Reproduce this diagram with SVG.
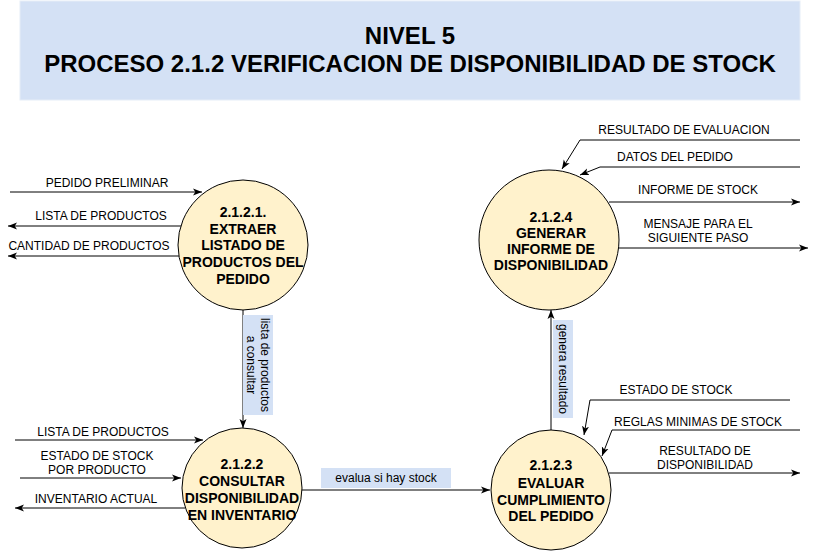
<svg xmlns="http://www.w3.org/2000/svg" width="818" height="551" viewBox="0 0 818 551">
<style>
.lbl{font-family:"Liberation Sans",Arial,sans-serif;font-size:12px;fill:#000}
.nt{font-family:"Liberation Sans",Arial,sans-serif;font-size:14px;font-weight:bold;fill:#000;text-anchor:middle}
.ttl{font-family:"Liberation Sans",Arial,sans-serif;font-size:24px;font-weight:bold;fill:#000;text-anchor:middle}
.proc{fill:#FFF2CC;stroke:#000;stroke-width:1}
.edge{fill:none;stroke:#000;stroke-width:1;marker-end:url(#arr)}
.lb{fill:#D4E1F5}
</style>
<defs>
<marker id="arr" markerUnits="userSpaceOnUse" markerWidth="10" markerHeight="8" refX="9" refY="4" orient="auto">
<path d="M0,0.5 L9,4 L0,7.5 L2.3,4 Z" fill="#000"/>
</marker>
</defs>
<rect x="0" y="0" width="818" height="551" fill="#fff"/>
<g id="header">
<rect x="20" y="1" width="780" height="99" fill="#D4E1F5" stroke="#E6EDF7"/>
<text class="ttl" x="410" y="44">NIVEL 5</text>
<text class="ttl" x="410" y="72">PROCESO 2.1.2 VERIFICACION DE DISPONIBILIDAD DE STOCK</text>
</g>
<g id="connectors">
<path class="edge" d="M10,192 L202,192"/>
<path class="edge" d="M181,226 L8,226"/>
<path class="edge" d="M179,256 L8,256"/>
<path class="edge" d="M15,440 L203,440"/>
<path class="edge" d="M20,478 L181,478"/>
<path class="edge" d="M185,508 L15,508"/>
<path class="edge" d="M243,310 L243,428"/>
<path class="edge" d="M302,490 L490,490"/>
<path class="edge" d="M551,430 L551,310"/>
<path class="edge" d="M800,140 L580,140 L562,169"/>
<path class="edge" d="M800,167 L600,167 L580,175"/>
<path class="edge" d="M609,202 L800,202"/>
<path class="edge" d="M619,248 L808,248"/>
<path class="edge" d="M790,400 L590,400 L584,435"/>
<path class="edge" d="M800,430 L612,430 L602,456"/>
<path class="edge" d="M609,473 L800,473"/>
<text class="lbl" x="107" y="187" text-anchor="middle">PEDIDO PRELIMINAR</text>
<text class="lbl" x="101" y="220" text-anchor="middle">LISTA DE PRODUCTOS</text>
<text class="lbl" x="89" y="250" text-anchor="middle">CANTIDAD DE PRODUCTOS</text>
<text class="lbl" x="103" y="436" text-anchor="middle">LISTA DE PRODUCTOS</text>
<text class="lbl" x="97" y="460" text-anchor="middle">ESTADO DE STOCK</text>
<text class="lbl" x="97" y="474" text-anchor="middle">POR PRODUCTO</text>
<text class="lbl" x="96" y="503" text-anchor="middle">INVENTARIO ACTUAL</text>
<text class="lbl" x="684" y="134" text-anchor="middle">RESULTADO DE EVALUACION</text>
<text class="lbl" x="675" y="161" text-anchor="middle">DATOS DEL PEDIDO</text>
<text class="lbl" x="698" y="194" text-anchor="middle">INFORME DE STOCK</text>
<text class="lbl" x="698" y="228" text-anchor="middle">MENSAJE PARA EL</text>
<text class="lbl" x="698" y="242" text-anchor="middle">SIGUIENTE PASO</text>
<text class="lbl" x="676" y="394" text-anchor="middle">ESTADO DE STOCK</text>
<text class="lbl" x="698" y="426" text-anchor="middle">REGLAS MINIMAS DE STOCK</text>
<text class="lbl" x="705" y="455" text-anchor="middle">RESULTADO DE</text>
<text class="lbl" x="705" y="469" text-anchor="middle">DISPONIBILIDAD</text>
<rect class="lb" x="243" y="315" width="30" height="100"/>
<g transform="translate(258,365) rotate(90)">
<text class="lbl" x="0" y="-3" text-anchor="middle">lista de productos</text>
<text class="lbl" x="0" y="11" text-anchor="middle">a consultar</text>
</g>
<rect class="lb" x="553" y="320" width="20" height="98"/>
<g transform="translate(563,369) rotate(90)">
<text class="lbl" x="0" y="4" text-anchor="middle">genera resultado</text>
</g>
<rect class="lb" x="321" y="468" width="130" height="20"/>
<text class="lbl" x="386" y="482" text-anchor="middle">evalua si hay stock</text>
</g>
<g id="p2121">
<circle class="proc" cx="243" cy="245" r="65"/>
<text class="nt" x="243" y="217">2.1.2.1.</text>
<text class="nt" x="243" y="234">EXTRAER</text>
<text class="nt" x="243" y="250">LISTADO DE</text>
<text class="nt" x="243" y="267">PRODUCTOS DEL</text>
<text class="nt" x="243" y="284">PEDIDO</text>
</g>
<g id="p2122">
<circle class="proc" cx="242" cy="488" r="60"/>
<text class="nt" x="242" y="469">2.1.2.2</text>
<text class="nt" x="242" y="486">CONSULTAR</text>
<text class="nt" x="242" y="503">DISPONIBILIDAD</text>
<text class="nt" x="242" y="520">EN INVENTARIO</text>
</g>
<g id="p2123">
<circle class="proc" cx="551" cy="490" r="60"/>
<text class="nt" x="551" y="470">2.1.2.3</text>
<text class="nt" x="551" y="488">EVALUAR</text>
<text class="nt" x="551" y="505">CUMPLIMIENTO</text>
<text class="nt" x="551" y="521">DEL PEDIDO</text>
</g>
<g id="p2124">
<circle class="proc" cx="549" cy="240" r="70"/>
<text class="nt" x="551" y="222">2.1.2.4</text>
<text class="nt" x="551" y="238">GENERAR</text>
<text class="nt" x="551" y="254">INFORME DE</text>
<text class="nt" x="551" y="270">DISPONIBILIDAD</text>
</g>
</svg>
